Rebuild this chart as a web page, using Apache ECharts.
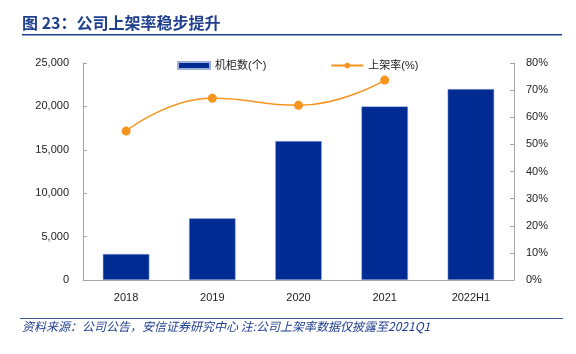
<!DOCTYPE html>
<html>
<head>
<meta charset="utf-8">
<script src="https://cdn.jsdelivr.net/npm/echarts@6/dist/echarts.min.js"></script>
<style>
	html, body { margin: 0; padding: 0; background: #fff; }
	#chart { width: 576px; height: 354px; }
</style>
</head>
<body>
<div id="chart"></div>
<script>
	// data
	var categories = ['2018', '2019', '2020', '2021', '2022H1']
	var cabinets = [3000, 7100, 16000, 20000, 22000]
	var rackRate = [54.9, 67.0, 64.4, 73.7, null]
	var leftTicks = [0, 5000, 10000, 15000, 20000, 25000]
	var rightTicks = [0, 10, 20, 30, 40, 50, 60, 70, 80]

	var fontFamily = '"Liberation Sans", "Noto Sans CJK SC", sans-serif'
	var axisColor = '#a6a6a6'

	var chart = echarts.init(document.getElementById('chart'))
	var option = {
		animation: false,
		textStyle: { fontFamily: fontFamily },
		graphic: [
			{
				type: 'text', left: 22, top: 15,
				style: { text: '图 23：公司上架率稳步提升', fill: '#1f3f8f', font: 'bold 16px "Noto Sans CJK SC", sans-serif' }
			},
			{ type: 'rect', left: 22, top: 34, shape: { width: 540, height: 1.5 }, style: { fill: '#1f3f8f' } },
			{ type: 'rect', left: 20, top: 318, shape: { width: 543, height: 1 }, style: { fill: '#3c5a9a' } },
			{
				type: 'text', left: 22, top: 320,
				style: { text: '资料来源：公司公告，安信证券研究中心 注:公司上架率数据仅披露至2021Q1', fill: '#1f3f8f', font: 'italic 12px "Noto Sans CJK SC", sans-serif' }
			}
		],
		legend: {
			top: 55,
			left: 172,
			itemGap: 64,
			itemWidth: 32,
			itemHeight: 7,
			textStyle: { fontSize: 11, color: '#222', fontFamily: fontFamily },
			data: [
				{ name: '机柜数(个)', icon: 'rect' },
				{ name: '上架率(%)' }
			]
		},
		grid: { left: 83, right: 62, top: 63, bottom: 74 },
		xAxis: {
			type: 'category',
			data: categories,
			axisLine: { lineStyle: { color: axisColor } },
			axisTick: { inside: true, length: 4, lineStyle: { color: axisColor } },
			axisLabel: { color: '#222', fontSize: 11, margin: 12 }
		},
		yAxis: [
			{
				type: 'value',
				min: leftTicks[0],
				max: leftTicks[leftTicks.length - 1],
				interval: 5000,
				splitLine: { show: false },
				axisLine: { show: true, lineStyle: { color: axisColor } },
				axisTick: { show: true, inside: true, length: 4, lineStyle: { color: axisColor } },
				axisLabel: {
					color: '#222', fontSize: 11, margin: 14,
					formatter: function (v) { return v.toLocaleString('en-US') }
				}
			},
			{
				type: 'value',
				min: rightTicks[0],
				max: rightTicks[rightTicks.length - 1],
				interval: 10,
				splitLine: { show: false },
				axisLine: { show: true, lineStyle: { color: axisColor } },
				axisTick: { show: true, inside: true, length: 4, lineStyle: { color: axisColor } },
				axisLabel: { color: '#222', fontSize: 11, margin: 12, formatter: '{value}%' }
			}
		],
		series: [
			{
				name: '机柜数(个)',
				type: 'bar',
				data: cabinets,
				barWidth: '54%',
				itemStyle: { color: '#002b93', borderColor: '#9fb0d8', borderWidth: 0.5 }
			},
			{
				name: '上架率(%)',
				type: 'line',
				yAxisIndex: 1,
				data: rackRate,
				smooth: true,
				symbol: 'circle',
				symbolSize: 9,
				lineStyle: { color: '#f7941d', width: 1.5 },
				itemStyle: { color: '#f7941d' }
			}
		]
	}
	chart.setOption(option)
</script>
</body>
</html>
